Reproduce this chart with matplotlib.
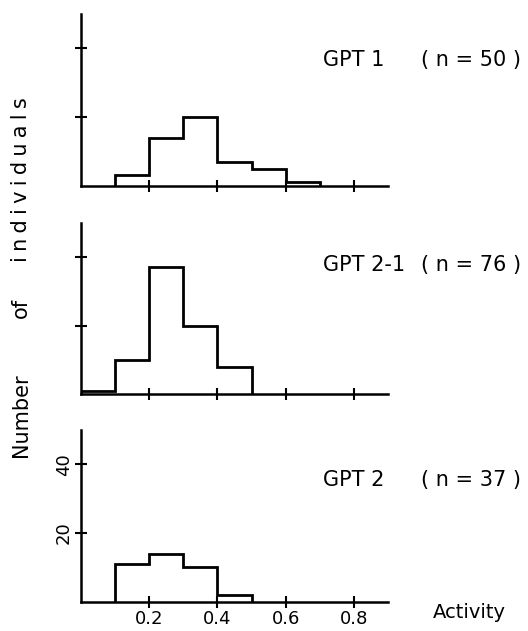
import numpy as np
import matplotlib
matplotlib.use("Agg")
import matplotlib.pyplot as plt

# bin edges of activity (0.1 wide)
edges = np.round(np.arange(0, 1.0, 0.1), 1)

# counts per bin
gpt1 = [0, 3, 14, 20, 7, 5, 1, 0, 0]
gpt21 = [1, 10, 37, 20, 8, 0, 0, 0, 0]
gpt2 = [0, 11, 14, 10, 2, 0, 0, 0, 0]

names = ["GPT 1", "GPT 2-1", "GPT 2"]
ns = ["( n = 50 )", "( n = 76 )", "( n = 37 )"]
series = [gpt1, gpt21, gpt2]

xticks = [0.2, 0.4, 0.6, 0.8]
yticks = [20, 40]

plt.rcParams['font.family'] = 'DejaVu Sans'

W, H = 528, 631
fig = plt.figure(figsize=(W / 100, H / 100), dpi=100)
bottoms = [0.7057, 0.3751, 0.0464]
label_y = [60, 265, 480]   # pixel rows of the panel labels


def fx(px):
    return px / W


def fy(py):
    return 1 - py / H


for i, counts in enumerate(series):
    ax = fig.add_axes([0.1534, bottoms[i], 0.5814, 0.2721])
    # trim empty bins so the outline starts and stops where data does
    last = max(j for j, c in enumerate(counts) if c > 0) + 1
    first = min(j for j, c in enumerate(counts) if c > 0)
    ax.stairs(counts[first:last], edges[first:last + 1], baseline=0,
              color="black", linewidth=2)
    ax.set_xlim(0, 0.9)
    ax.set_ylim(0, 50)
    for s in ["top", "right"]:
        ax.spines[s].set_visible(False)
    for s in ["left", "bottom"]:
        ax.spines[s].set_linewidth(1.8)
    ax.set_xticks(xticks)
    ax.set_yticks(yticks)
    ax.tick_params(direction="inout", length=8, width=1.5, pad=2)
    fig.text(fx(323), fy(label_y[i]), names[i], ha="left", va="center",
             fontsize=15)
    fig.text(fx(521), fy(label_y[i]), ns[i], ha="right", va="center",
             fontsize=15)
    if i < 2:
        ax.set_xticklabels([])
        ax.set_yticklabels([])
    else:
        ax.set_xticklabels(["0.2", "0.4", "0.6", "0.8"], fontsize=13)
        ax.set_yticklabels(["20", "40"], fontsize=13, rotation=90, va="center")

fig.text(fx(433), fy(613), "Activity", ha="left", va="center", fontsize=14)

# y label, words placed one by one (the scan's lettering is widely spaced)
fig.text(fx(21), fy(415), "Number", rotation=90, ha="center", va="center",
         fontsize=15)
fig.text(fx(21), fy(308), "of", rotation=90, ha="center", va="center",
         fontsize=15)
fig.text(fx(21), fy(180), "\u2005".join("individuals"), rotation=90,
         ha="center", va="center", fontsize=15)

fig.savefig("out.png", dpi=100)
